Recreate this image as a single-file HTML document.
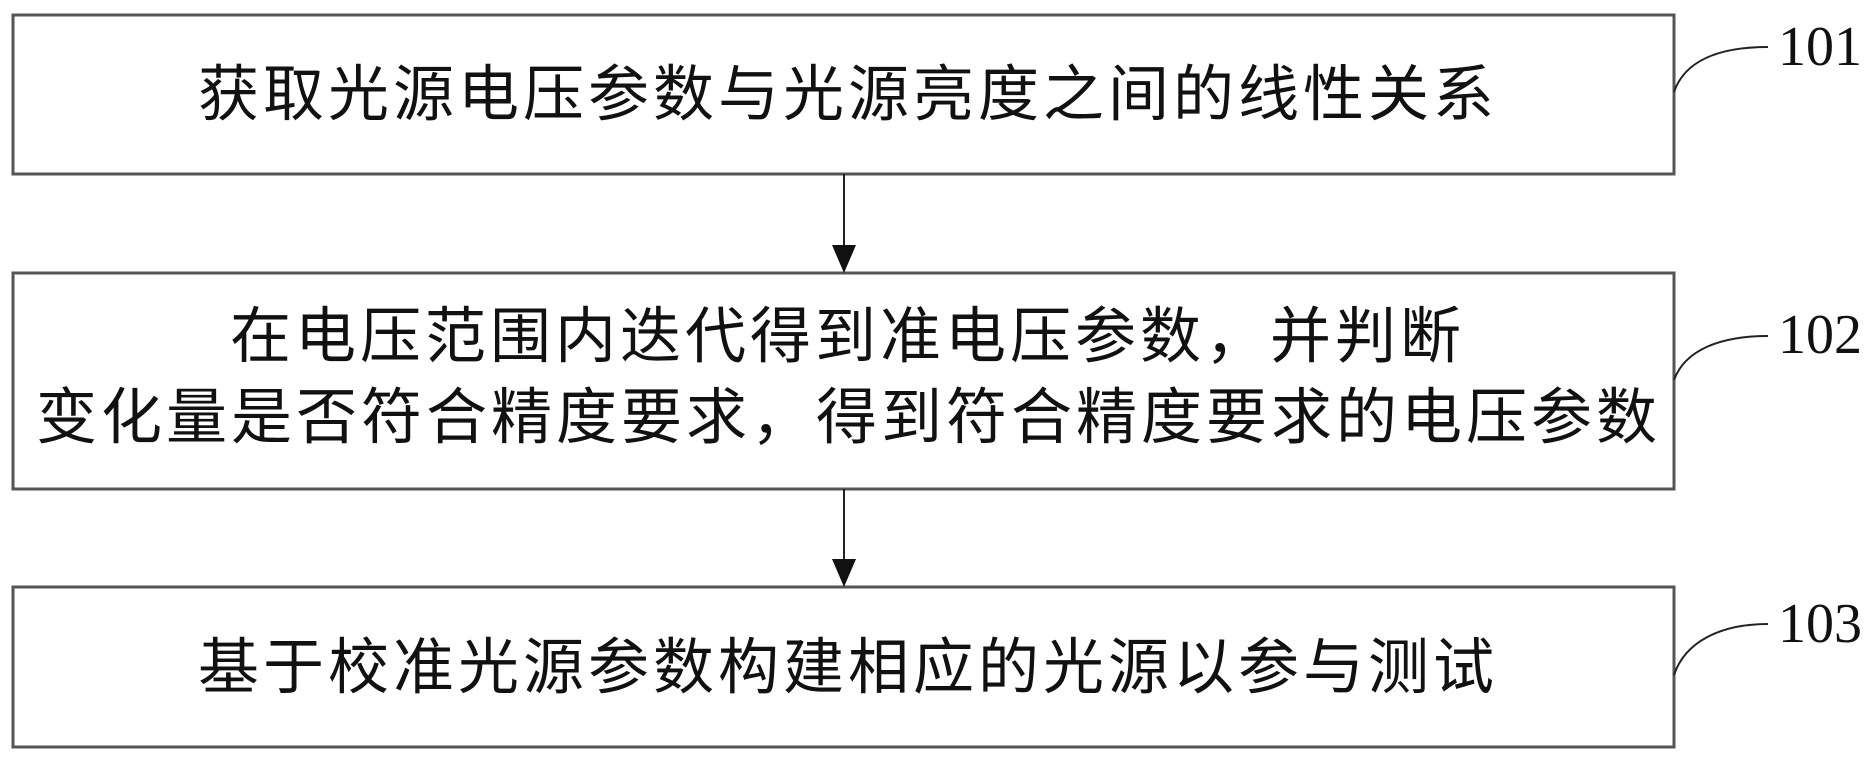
<!DOCTYPE html>
<html><head><meta charset="utf-8"><style>
html,body{margin:0;padding:0;background:#fff;}
svg{display:block}
.t{font-family:"Liberation Sans","Noto Sans CJK SC",sans-serif;font-size:61px;fill:#111;letter-spacing:4px}
.n{font-family:"Liberation Serif",serif;font-size:56px;fill:#111}
</style></head><body>
<svg width="1871" height="761" viewBox="0 0 1871 761">
<g fill="none" stroke="#555" stroke-width="3">
<rect x="13" y="15" width="1661" height="159"/>
<rect x="13" y="273" width="1661" height="216"/>
<rect x="13" y="587" width="1661" height="160"/>
</g>
<g stroke="#222" stroke-width="2" fill="none">
<line x1="844" y1="174" x2="844" y2="248"/>
<line x1="844" y1="489" x2="844" y2="562"/>
<path d="M1674 92 C1685 60 1720 47 1768 47"/>
<path d="M1674 380 C1685 350 1720 336 1768 336"/>
<path d="M1674 675 C1685 642 1720 624 1768 624"/>
</g>
<g fill="#111">
<polygon points="832,245 856,245 844,273"/>
<polygon points="832,559 856,559 844,587"/>
</g>
<text class="t" x="198" y="115">获取光源电压参数与光源亮度之间的线性关系</text>
<text class="t" x="230" y="357">在电压范围内迭代得到准电压参数，并判断</text>
<text class="t" x="36" y="438">变化量是否符合精度要求，得到符合精度要求的电压参数</text>
<text class="t" x="198" y="688">基于校准光源参数构建相应的光源以参与测试</text>
<text class="n" x="1778" y="65">101</text>
<text class="n" x="1778" y="353">102</text>
<text class="n" x="1778" y="642">103</text>
</svg>
</body></html>
